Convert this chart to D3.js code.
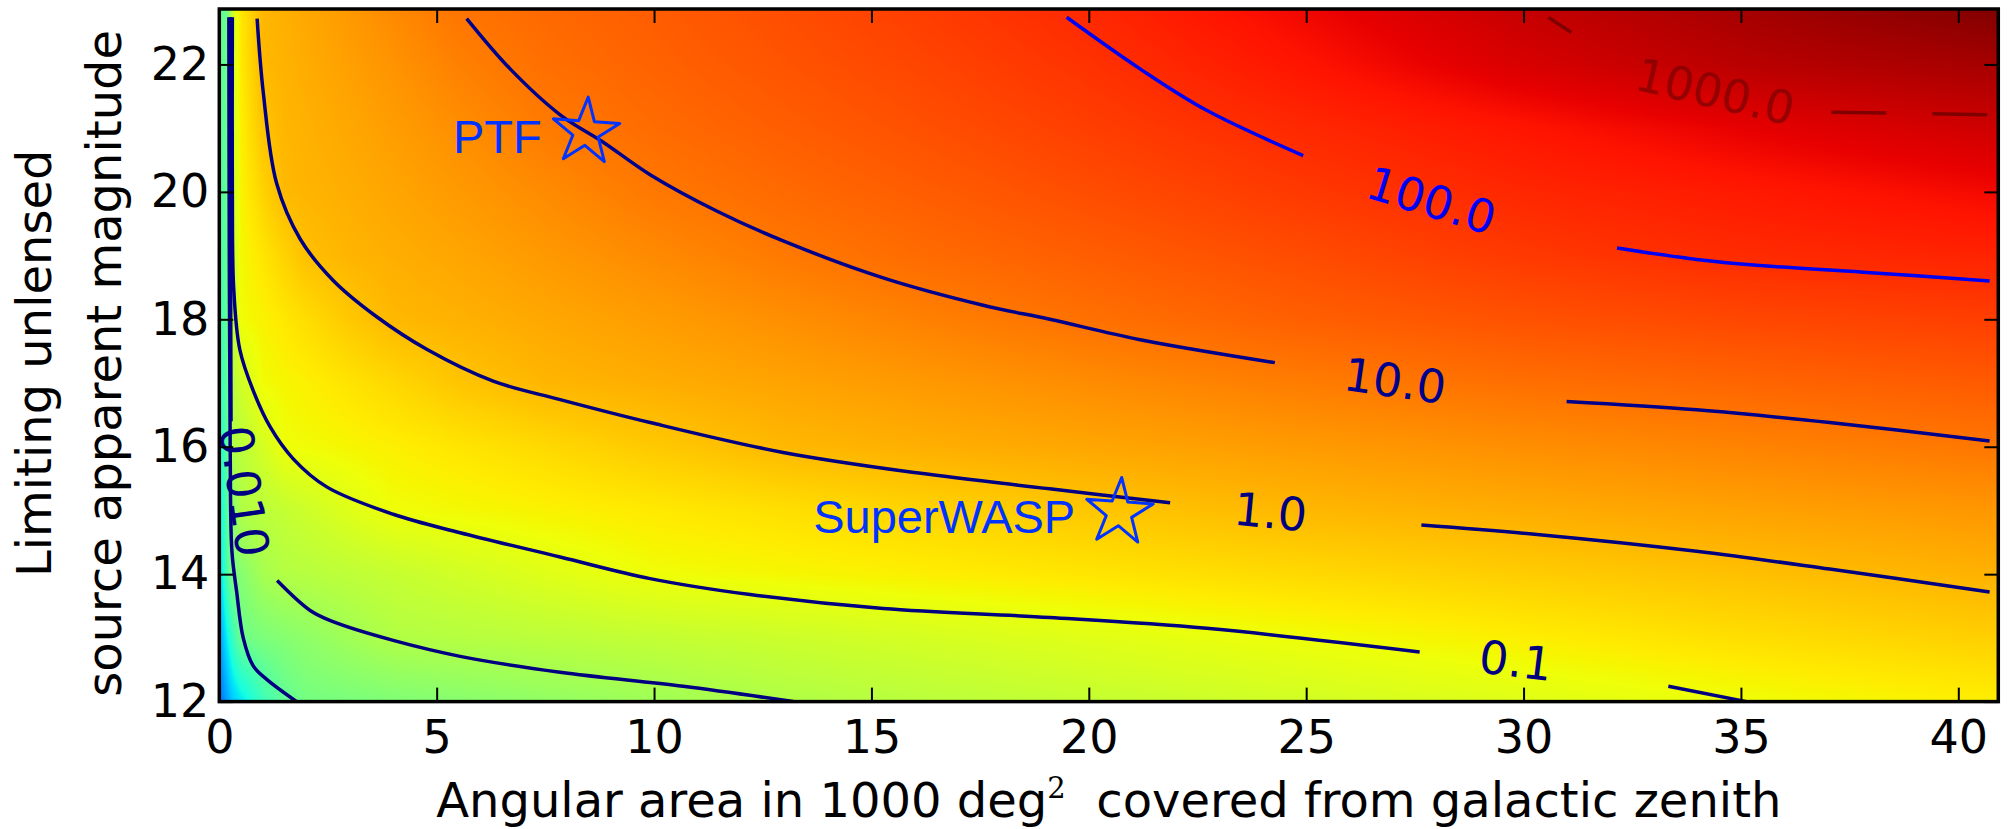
<!DOCTYPE html>
<html>
<head>
<meta charset="utf-8">
<script src="https://cdn.jsdelivr.net/npm/d3@7"></script>
<style>
  body { margin: 0; background: #fff; }
  svg { display: block; }
  text { font-family: "DejaVu Sans", sans-serif; }
</style>
</head>
<body>
<svg width="2016" height="829"></svg>
<script>
// log10 of the rate on a coarse grid (rows = magnitude)
var gridArea = [0, 0.2, 0.3, 0.5, 1, 1.5, 2, 3, 4, 5.5, 7.5, 10, 13, 16, 20, 25, 30, 35, 41];
var gridMag = [12, 13, 14, 15, 16, 17, 18, 19, 20, 21, 22, 23];
var gridLog = [
  [-6.5, -5.7, -5.3, -4.9, -3.9, -3.3, -2.98, -2.89, -2.8, -2.67, -2.5, -2.28, -2.02, -1.86, -1.68, -1.46, -1.23, -1.0, -0.75],
  [-5.9, -4.6, -4.0, -3.1, -2.86, -2.7, -2.55, -2.25, -1.99, -1.92, -1.82, -1.70, -1.56, -1.42, -1.22, -0.98, -0.76, -0.53, -0.3],
  [-5.3, -3.4, -2.93, -2.71, -2.16, -1.96, -1.90, -1.78, -1.66, -1.48, -1.24, -0.98, -0.88, -0.77, -0.63, -0.45, -0.28, -0.10, 0.12],
  [-4.9, -3.3, -2.7, -1.99, -1.84, -1.69, -1.54, -1.24, -0.99, -0.91, -0.81, -0.69, -0.54, -0.39, -0.19, 0.03, 0.18, 0.33, 0.5],
  [-4.6, -3.2, -2.0, -1.83, -1.42, -1.0, -0.95, -0.86, -0.77, -0.63, -0.45, -0.22, 0.02, 0.14, 0.27, 0.44, 0.61, 0.77, 0.96],
  [-4.3, -3.2, -1.95, -1.5, -0.95, -0.86, -0.78, -0.6, -0.43, -0.17, 0.05, 0.17, 0.31, 0.45, 0.64, 0.87, 1.06, 1.20, 1.36],
  [-4.1, -3.15, -1.8, -0.96, -0.81, -0.66, -0.51, -0.21, 0.02, 0.12, 0.25, 0.41, 0.60, 0.80, 1.04, 1.29, 1.48, 1.63, 1.76],
  [-3.9, -3.1, -1.7, -0.91, -0.64, -0.36, -0.09, 0.07, 0.16, 0.28, 0.46, 0.67, 0.92, 1.11, 1.31, 1.57, 1.83, 2.03, 2.15],
  [-3.75, -3.1, -1.6, -0.84, -0.37, 0.01, 0.07, 0.17, 0.28, 0.45, 0.66, 0.93, 1.14, 1.31, 1.55, 1.84, 2.09, 2.28, 2.52],
  [-3.6, -3.05, -1.6, -0.79, -0.16, 0.05, 0.12, 0.26, 0.40, 0.61, 0.89, 1.11, 1.31, 1.50, 1.76, 2.07, 2.35, 2.65, 2.95],
  [-3.5, -3.0, -1.5, -0.70, 0.01, 0.10, 0.19, 0.37, 0.54, 0.81, 1.06, 1.24, 1.45, 1.65, 1.93, 2.36, 2.82, 3.18, 3.42],
  [-3.4, -3.0, -1.5, -0.65, 0.04, 0.15, 0.26, 0.48, 0.70, 1.01, 1.16, 1.34, 1.56, 1.78, 2.09, 2.58, 3.08, 3.45, 3.9]
];

// contour lines as [area, mag] points, broken where the labels sit
var level0001 = [
  [[0.22, 22.74], [0.23, 19], [0.25, 16], [0.29, 14.36], [0.40, 13.72], [0.55, 13.0], [0.78, 12.56], [1.09, 12.35], [1.78, 12.0]]
];
var level001 = [
  [[0.26, 22.74], [0.26, 19], [0.27, 16.4]],
  [[1.33, 13.9], [2.09, 13.43], [2.63, 13.25], [4.0, 12.96], [5.54, 12.71], [7.84, 12.46], [10.67, 12.24], [13.2, 12.0]]
];
var level01 = [
  [[0.30, 22.74], [0.30, 20], [0.33, 18.5], [0.47, 17.53], [0.78, 16.88], [1.17, 16.31], [1.70, 15.81], [2.47, 15.37],
   [4.0, 14.94], [5.54, 14.65], [7.84, 14.27], [9.91, 13.93], [12.21, 13.68], [15.27, 13.46], [19.1, 13.32], [22.71, 13.15], [27.61, 12.78]],
  [[33.33, 12.24], [35.13, 12.0]]
];
var level1 = [
  [[0.87, 22.72], [1.01, 21.57], [1.32, 20.13], [1.86, 19.26], [2.62, 18.61], [3.62, 18.04], [4.77, 17.53], [6.30, 17.03],
   [7.84, 16.74], [9.91, 16.38], [12.97, 15.91], [16.04, 15.59], [19.1, 15.34], [21.87, 15.12]],
  [[27.65, 14.77], [30.37, 14.62], [33.98, 14.36], [37.04, 14.08], [40.72, 13.72]]
];
var level10 = [
  [[5.69, 22.72], [6.69, 21.93], [7.84, 21.21], [8.83, 20.78], [9.91, 20.27], [11.44, 19.70], [12.97, 19.23], [15.27, 18.65],
   [17.57, 18.22], [19.1, 18.0], [21.18, 17.68], [24.28, 17.32]],
  [[30.99, 16.71], [33.98, 16.58], [37.04, 16.38], [40.72, 16.09]]
];
var level100 = [
  [[19.49, 22.74], [21.18, 21.93], [22.71, 21.28], [24.93, 20.57]],
  [[32.15, 19.12], [33.98, 18.94], [35.51, 18.84], [37.81, 18.74], [40.72, 18.6]]
];
var level1000 = [
  [[30.57, 22.74], [31.1, 22.5]],
  [[37.08, 21.25], [40.72, 21.21]]
];
var contourLevels = [0.001, 0.01, 0.1, 1, 10, 100, 1000];
var contourLines = [level0001, level001, level01, level1, level10, level100, level1000];

// contour labels
var labelLevel = [0.01, 0.1, 1, 10, 100, 1000];
var labelText = ["0.010", "0.1", "1.0", "10.0", "100.0", "1000.0"];
var labelArea = [0.57, 29.82, 24.18, 27.04, 27.88, 34.40];
var labelMag = [15.30, 12.64, 14.975, 17.03, 19.86, 21.57];
var labelAngle = [82, 7, 5.5, 8, 17, 13];

// surveys marked with stars
var surveyName = ["PTF", "SuperWASP"];
var surveyArea = [8.43, 20.70];
var surveyMag = [20.94, 14.97];

var xTicks = [0, 5, 10, 15, 20, 25, 30, 35, 40];
var yTicks = [12, 14, 16, 18, 20, 22];

var svg = d3.select("svg");
svg.append("rect").attr("width", 2016).attr("height", 829).attr("fill", "#fff");

var x = d3.scaleLinear().domain([0, 40.92]).range([219.3, 1998.3]);
var y = d3.scaleLinear().domain([12, 22.87]).range([701.6, 9]);

// matplotlib "jet"
var jetR = d3.scaleLinear().domain([0, 0.35, 0.66, 0.89, 1]).range([0, 0, 1, 1, 0.5]).clamp(true);
var jetG = d3.scaleLinear().domain([0, 0.125, 0.375, 0.64, 0.91, 1]).range([0, 0, 1, 1, 0, 0]).clamp(true);
var jetB = d3.scaleLinear().domain([0, 0.11, 0.34, 0.65, 1]).range([0.5, 1, 1, 0, 0]).clamp(true);
function jet(t) { return d3.rgb(255 * jetR(t), 255 * jetG(t), 255 * jetB(t)); }

var norm = d3.scaleLinear().domain([-9.6, 3.85]).range([0, 1]).clamp(true);

// heat map
var px0 = x.range()[0], px1 = x.range()[1], pyTop = y.range()[1], pyBot = y.range()[0];
var W = Math.round(px1 - px0), H = Math.round(pyBot - pyTop);
var canvas = document.createElement("canvas");
canvas.width = W; canvas.height = H;
var ctx = canvas.getContext("2d");
var img = ctx.createImageData(W, H);

function cell(arr, v) {
  var i = Math.max(0, Math.min(arr.length - 2, d3.bisectRight(arr, v) - 1));
  var f = (v - arr[i]) / (arr[i + 1] - arr[i]);
  return [i, Math.max(0, Math.min(1, f))];
}
var cols = d3.range(W).map(function(i) { return cell(gridArea, x.invert(px0 + i + 0.5)); });
for (var j = 0; j < H; j++) {
  var r = cell(gridMag, y.invert(pyTop + j + 0.5));
  var row0 = gridLog[r[0]], row1 = gridLog[r[0] + 1], fy = r[1];
  for (var i = 0; i < W; i++) {
    var c = cols[i][0], fx = cols[i][1];
    var v0 = row0[c] * (1 - fx) + row0[c + 1] * fx;
    var v1 = row1[c] * (1 - fx) + row1[c + 1] * fx;
    var col = jet(norm(v0 * (1 - fy) + v1 * fy));
    var k = (j * W + i) * 4;
    img.data[k] = col.r; img.data[k + 1] = col.g; img.data[k + 2] = col.b; img.data[k + 3] = 255;
  }
}
ctx.putImageData(img, 0, 0);

svg.append("clipPath").attr("id", "plot")
  .append("rect").attr("x", px0).attr("y", pyTop).attr("width", px1 - px0).attr("height", pyBot - pyTop);

var plot = svg.append("g").attr("clip-path", "url(#plot)");
plot.append("image")
  .attr("x", px0).attr("y", pyTop).attr("width", px1 - px0).attr("height", pyBot - pyTop)
  .attr("preserveAspectRatio", "none")
  .attr("href", canvas.toDataURL());

// contour colours follow jet over the level range, as matplotlib did
var levelNorm = d3.scaleLinear().domain([0.001, 1000]).range([0, 1]);
var line = d3.line().x(function(d) { return x(d[0]); }).y(function(d) { return y(d[1]); })
  .curve(d3.curveCatmullRom.alpha(0.5));

contourLines.forEach(function(segs, li) {
  var lev = contourLevels[li];
  plot.selectAll(null).data(segs).enter().append("path")
    .attr("d", line)
    .attr("fill", "none")
    .attr("stroke", jet(levelNorm(lev)).formatHex())
    .attr("stroke-width", 3.5)
    .attr("stroke-dasharray", lev === 1000 ? "55,46" : null);
});

plot.selectAll(".clabel").data(labelText).enter().append("text")
  .attr("class", "clabel")
  .attr("transform", function(d, i) {
    return "translate(" + x(labelArea[i]) + "," + y(labelMag[i]) + ") rotate(" + labelAngle[i] + ")";
  })
  .attr("text-anchor", "middle")
  .attr("dominant-baseline", "central")
  .style("font-size", "46px")
  .attr("fill", function(d, i) { return jet(levelNorm(labelLevel[i])).formatHex(); })
  .attr("opacity", function(d, i) { return labelLevel[i] === 1000 ? 0.75 : 1; })
  .text(function(d) { return d; });

// survey stars
var star = d3.symbol().type(d3.symbolStar).size(1375);
var surveys = plot.selectAll(".survey").data(surveyName).enter().append("g")
  .attr("class", "survey")
  .attr("transform", function(d, i) { return "translate(" + x(surveyArea[i]) + "," + y(surveyMag[i]) + ")"; });
surveys.append("path")
  .attr("d", star)
  .attr("transform", "rotate(4)")
  .attr("fill", "none")
  .attr("stroke", "#0033ff")
  .attr("stroke-width", 3)
  .attr("stroke-linejoin", "round");
surveys.append("text")
  .attr("x", -44).attr("y", 21)
  .attr("text-anchor", "end")
  .style("font-family", "'Liberation Sans', Arial, sans-serif")
  .style("font-size", "47px")
  .attr("fill", "#0033ff")
  .text(function(d) { return d; });

// axes: inward ticks on all four sides, labels bottom and left
function styleAxis(g) {
  g.select(".domain").remove();
  g.selectAll(".tick line").attr("stroke", "#000").attr("stroke-width", 2);
  g.selectAll(".tick text").attr("fill", "#000")
    .style("font-family", "'DejaVu Sans', sans-serif").style("font-size", "46px");
}
svg.append("g").attr("transform", "translate(0," + pyBot + ")")
  .call(d3.axisBottom(x).tickValues(xTicks).tickSizeInner(-14).tickSizeOuter(0).tickPadding(19))
  .call(styleAxis);
svg.append("g").attr("transform", "translate(0," + pyTop + ")")
  .call(d3.axisTop(x).tickValues(xTicks).tickSizeInner(-14).tickSizeOuter(0).tickFormat(""))
  .call(styleAxis);
svg.append("g").attr("transform", "translate(" + px0 + ",0)")
  .call(d3.axisLeft(y).tickValues(yTicks).tickSizeInner(-14).tickSizeOuter(0).tickPadding(10))
  .call(styleAxis);
svg.append("g").attr("transform", "translate(" + px1 + ",0)")
  .call(d3.axisRight(y).tickValues(yTicks).tickSizeInner(-14).tickSizeOuter(0).tickFormat(""))
  .call(styleAxis);

svg.append("rect")
  .attr("x", px0).attr("y", pyTop).attr("width", px1 - px0).attr("height", pyBot - pyTop)
  .attr("fill", "none").attr("stroke", "#000").attr("stroke-width", 3.5);

// axis titles
var xt = svg.append("text")
  .attr("x", (px0 + px1) / 2).attr("y", 817)
  .attr("text-anchor", "middle")
  .style("font-size", "48px");
xt.append("tspan").text("Angular area in 1000 deg");
xt.append("tspan").attr("dy", -19).style("font-size", "29px").style("font-family", "'DejaVu Serif', serif").text("2");
xt.append("tspan").attr("dy", 19).text("\u00a0\u00a0covered from galactic zenith");

var yt = svg.append("text")
  .attr("transform", "translate(51," + ((pyTop + pyBot) / 2 + 8) + ") rotate(-90)")
  .attr("text-anchor", "middle")
  .style("font-size", "48px");
yt.append("tspan").attr("x", 0).attr("y", 0).text("Limiting unlensed");
yt.append("tspan").attr("x", 0).attr("y", 69.5).text("source apparent magnitude");
</script>
</body>
</html>
